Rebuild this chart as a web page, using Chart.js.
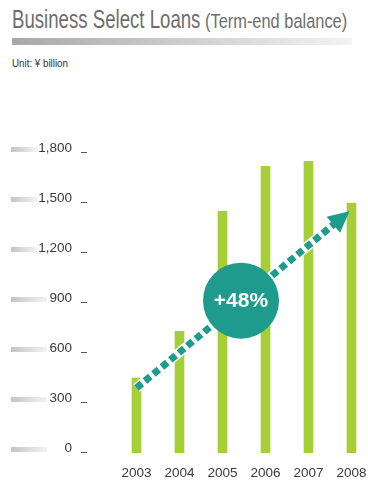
<!DOCTYPE html>
<html>
<head>
<meta charset="utf-8">
<script src="https://cdn.jsdelivr.net/npm/chart.js@4.4.1/dist/chart.umd.min.js"></script>
<style>
  html, body { margin: 0; padding: 0; background: #fff; }
  body { width: 368px; height: 483px; overflow: hidden; position: relative;
         font-family: 'Liberation Sans', Arial, sans-serif; }
  .t { position: absolute; white-space: nowrap; line-height: 1; transform-origin: left top; }
  #title1 { left: 12px; top: 7px; font-size: 25px; color: #6e6e6e; transform: scaleX(0.745); }
  #title2 { left: 205px; top: 10.5px; font-size: 20.5px; color: #6e6e6e; transform: scaleX(0.8); }
  #rule { position: absolute; left: 12px; top: 38px; width: 340px; height: 7px;
          background: linear-gradient(to right, #a8a8a8, #f3f3f3); }
  #unit { left: 12px; top: 58px; font-size: 11.5px; color: #333; transform: scaleX(0.85); }
  #wrap { position: absolute; left: 0; top: 0; width: 390px; height: 483px; }
</style>
</head>
<body>
<div id="title1" class="t">Business Select Loans</div>
<div id="title2" class="t">(Term-end balance)</div>
<div id="rule"></div>
<div id="unit" class="t">Unit: ¥ billion</div>
<div id="wrap"><canvas id="chart" width="390" height="483"></canvas></div>
<script>
const years = ['2003', '2004', '2005', '2006', '2007', '2008'];
const balances = [450, 730, 1450, 1720, 1750, 1500];
const yTicks = [0, 300, 600, 900, 1200, 1500, 1800];
// trend arrow, in data units (from first year to last year)
const trendFrom = 390;
const trendTo = 1450;
const trendLabel = '+48%';

const labelFont = "'Liberation Sans', Arial, sans-serif";
const teal = '#1f9b8d';

// gray gradient stubs and little dashes next to the y labels
const axisDecor = {
    id: 'axisDecor',
    afterDraw(chart) {
        const ctx = chart.ctx;
        const y = chart.scales.y;
        ctx.save();
        ctx.font = '13.5px ' + labelFont;
        yTicks.forEach(v => {
            const py = y.getPixelForValue(v);
            const w = ctx.measureText(v.toLocaleString('en-US')).width;
            const right = Math.min(47, 72 - w - 1);
            const g = ctx.createLinearGradient(11, 0, right, 0);
            g.addColorStop(0, '#c4c4c4');
            g.addColorStop(1, '#f4f4f4');
            ctx.fillStyle = g;
            ctx.fillRect(11, py - 6, right - 11, 5);
            ctx.fillStyle = '#555';
            ctx.fillRect(81, Math.round(py) - 1, 6, 1);
        });
        ctx.restore();
    }
};

// dotted trend arrow with the growth badge
const trendArrow = {
    id: 'trendArrow',
    afterDatasetsDraw(chart) {
        const ctx = chart.ctx;
        const xs = chart.scales.x, ys = chart.scales.y;
        const x0 = xs.getPixelForValue(0), y0 = ys.getPixelForValue(trendFrom);
        const x1 = xs.getPixelForValue(years.length - 1) - 2, y1 = ys.getPixelForValue(trendTo);
        const ang = Math.atan2(y1 - y0, x1 - x0);
        const headLen = 21, headHalf = 10.5;
        const bx = x1 - Math.cos(ang) * headLen, by = y1 - Math.sin(ang) * headLen;
        ctx.save();
        ctx.lineCap = 'butt';
        ctx.strokeStyle = '#fff';
        ctx.lineWidth = 10;
        ctx.beginPath(); ctx.moveTo(x0, y0); ctx.lineTo(bx, by); ctx.stroke();
        ctx.strokeStyle = teal;
        ctx.lineWidth = 7;
        ctx.setLineDash([7, 4]);
        ctx.beginPath(); ctx.moveTo(x0, y0); ctx.lineTo(bx + Math.cos(ang) * 2, by + Math.sin(ang) * 2); ctx.stroke();
        ctx.setLineDash([]);
        ctx.fillStyle = teal;
        ctx.beginPath();
        ctx.moveTo(x1, y1);
        ctx.lineTo(bx + Math.sin(ang) * headHalf, by - Math.cos(ang) * headHalf);
        ctx.lineTo(bx - Math.sin(ang) * headHalf, by + Math.cos(ang) * headHalf);
        ctx.closePath(); ctx.fill();
        const cx = (x0 + x1) / 2 - 2, cy = (y0 + y1) / 2 + 1;
        ctx.beginPath(); ctx.arc(cx, cy, 38, 0, Math.PI * 2); ctx.fill();
        ctx.fillStyle = '#fff';
        ctx.font = "bold 21px " + labelFont;
        ctx.textAlign = 'center';
        ctx.textBaseline = 'middle';
        ctx.fillText(trendLabel, cx, cy + 1);
        ctx.restore();
    }
};

Chart.defaults.font.family = labelFont;

new Chart(document.getElementById('chart'), {
    type: 'bar',
    data: {
        labels: years,
        datasets: [{
            data: balances,
            backgroundColor: '#a6ce39',
            barThickness: 9,
        }]
    },
    options: {
        responsive: false,
        animation: false,
        layout: { padding: { top: 153, left: 0, right: 17, bottom: 0 } },
        plugins: { legend: { display: false }, tooltip: { enabled: false } },
        scales: {
            x: {
                afterFit: s => { s.height = 30; },
                // tickLength only used as label spacing, marks are hidden
                grid: { display: false, drawTicks: true, tickLength: 12 },
                border: { display: false },
                ticks: { color: '#3a3a3a', font: { size: 13.5 }, padding: 0 }
            },
            y: {
                min: 0,
                max: 1800,
                afterFit: s => { s.width = 115; },
                afterBuildTicks: s => { s.ticks = yTicks.map(v => ({ value: v })); },
                grid: { display: false, drawTicks: true, tickLength: 43 },
                border: { display: false },
                ticks: {
                    color: '#3a3a3a',
                    font: { size: 13.5 },
                    padding: 0,
                    labelOffset: -5,
                    callback: v => v.toLocaleString('en-US')
                }
            }
        }
    },
    plugins: [axisDecor, trendArrow]
});
</script>
</body>
</html>
